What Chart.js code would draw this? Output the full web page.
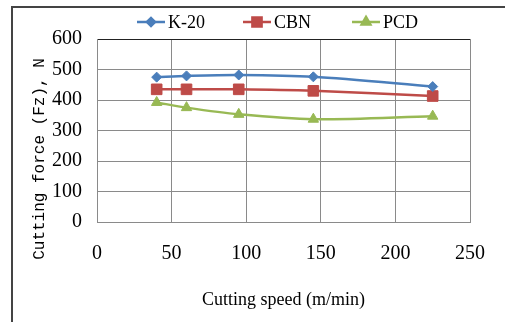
<!DOCTYPE html>
<html>
<head>
<meta charset="utf-8">
<script src="https://cdn.jsdelivr.net/npm/chart.js@4"></script>
<style>
  html, body { margin: 0; padding: 0; background: #fff; }
  #wrap { position: relative; width: 505px; height: 322px; overflow: hidden; }
  #frame { position: absolute; left: 11px; top: 6px; width: 520px; height: 340px; border: 2px solid #444; box-sizing: border-box; }
  canvas { position: absolute; left: 0; top: 0; }
</style>
</head>
<body>
<div id="wrap">
  <div id="frame"></div>
  <canvas id="chart" width="505" height="322"></canvas>
</div>
<script>
// cutting speed (m/min)
const speeds = [40, 60, 95, 145, 225];
const k20 = [475, 479, 482, 476, 444];
const cbn = [435, 435, 435, 430, 413];
const pcd = [392, 375, 353, 337, 347];
const xTicks = [0, 50, 100, 150, 200, 250];
const yTicks = [0, 100, 200, 300, 400, 500, 600];

const serif = '"Liberation Serif", "Times New Roman", serif';

function pts(vals) {
    return vals.map((v, i) => ({ x: speeds[i], y: v }));
}

const data = {
  datasets: [{
    label: 'K-20',
    data: pts(k20),
    borderColor: '#4a7ebb',
    backgroundColor: '#4a7ebb',
    pointStyle: 'rectRot',
    pointRadius: 5
  }, {
    label: 'CBN',
    data: pts(cbn),
    borderColor: '#be4b48',
    backgroundColor: '#be4b48',
    pointStyle: 'rect',
    pointRadius: 7.5
  }, {
    label: 'PCD',
    data: pts(pcd),
    borderColor: '#98b954',
    backgroundColor: '#98b954',
    pointStyle: 'triangle',
    pointRadius: 6
  }]
};

// legend and y title drawn by hand so they sit where the original has them
const extras = {
    id: 'extras',
    afterDraw(chart) {
        const ctx = chart.ctx;
        ctx.save();
        const legendX = [137, 243, 352];
        chart.data.datasets.forEach((ds, i) => {
            const x = legendX[i], y = 22;
            ctx.strokeStyle = ds.borderColor;
            ctx.lineWidth = 2.5;
            ctx.beginPath();
            ctx.moveTo(x, y);
            ctx.lineTo(x + 28, y);
            ctx.stroke();
            Chart.helpers.drawPoint(ctx, {
                pointStyle: ds.pointStyle,
                radius: ds.pointRadius - 1,
                borderWidth: 1
            }, x + 14, y);
            ctx.fillStyle = ds.borderColor;
            ctx.fill();
            ctx.fillStyle = '#000';
            ctx.font = '18px ' + serif;
            ctx.textBaseline = 'middle';
            ctx.textAlign = 'left';
            ctx.fillText(ds.label, x + 31, y + 1);
        });
        ctx.translate(40, 159);
        ctx.rotate(-Math.PI / 2);
        ctx.font = '16px "Liberation Mono", monospace';
        ctx.textAlign = 'center';
        ctx.textBaseline = 'middle';
        ctx.fillStyle = '#000';
        ctx.fillText('Cutting force (Fz), N', 0, 0);
        ctx.restore();
    }
};

const config = {
    type: 'line',
    data,
    options: {
        responsive: false,
        animation: false,
        layout: {
            padding: { left: 0, right: 17, top: 39, bottom: 0 }
        },
        elements: {
            line: { borderWidth: 2.5, tension: 0.3 },
            point: { borderWidth: 1 }
        },
        scales: {
            x: {
                type: 'linear',
                min: 0,
                max: 250,
                afterBuildTicks: (s) => { s.ticks = xTicks.map(v => ({ value: v })); },
                afterFit: (s) => { s.height = 100; },
                grid: { color: '#8a8a8a', lineWidth: 1, drawTicks: false },
                border: { color: '#8a8a8a' },
                ticks: {
                    padding: 20,
                    color: '#000',
                    font: { family: serif, size: 20 }
                },
                title: {
                    display: true,
                    text: 'Cutting speed (m/min)',
                    color: '#000',
                    font: { family: serif, size: 18 },
                    padding: { top: 0, bottom: 11 }
                }
            },
            y: {
                type: 'linear',
                min: 0,
                max: 600,
                afterBuildTicks: (s) => { s.ticks = yTicks.map(v => ({ value: v })); },
                afterFit: (s) => { s.width = 97; },
                grid: {
                    color: (c) => c.tick && c.tick.value === 600 ? '#222' : '#8a8a8a',
                    lineWidth: 1,
                    drawTicks: false
                },
                border: { color: '#8a8a8a' },
                ticks: {
                    padding: 15,
                    color: '#000',
                    font: { family: serif, size: 20 }
                }
            }
        },
        plugins: {
            legend: { display: false },
            tooltip: { enabled: false }
        }
    },
    plugins: [extras]
};

new Chart(document.getElementById('chart'), config);
</script>
</body>
</html>
